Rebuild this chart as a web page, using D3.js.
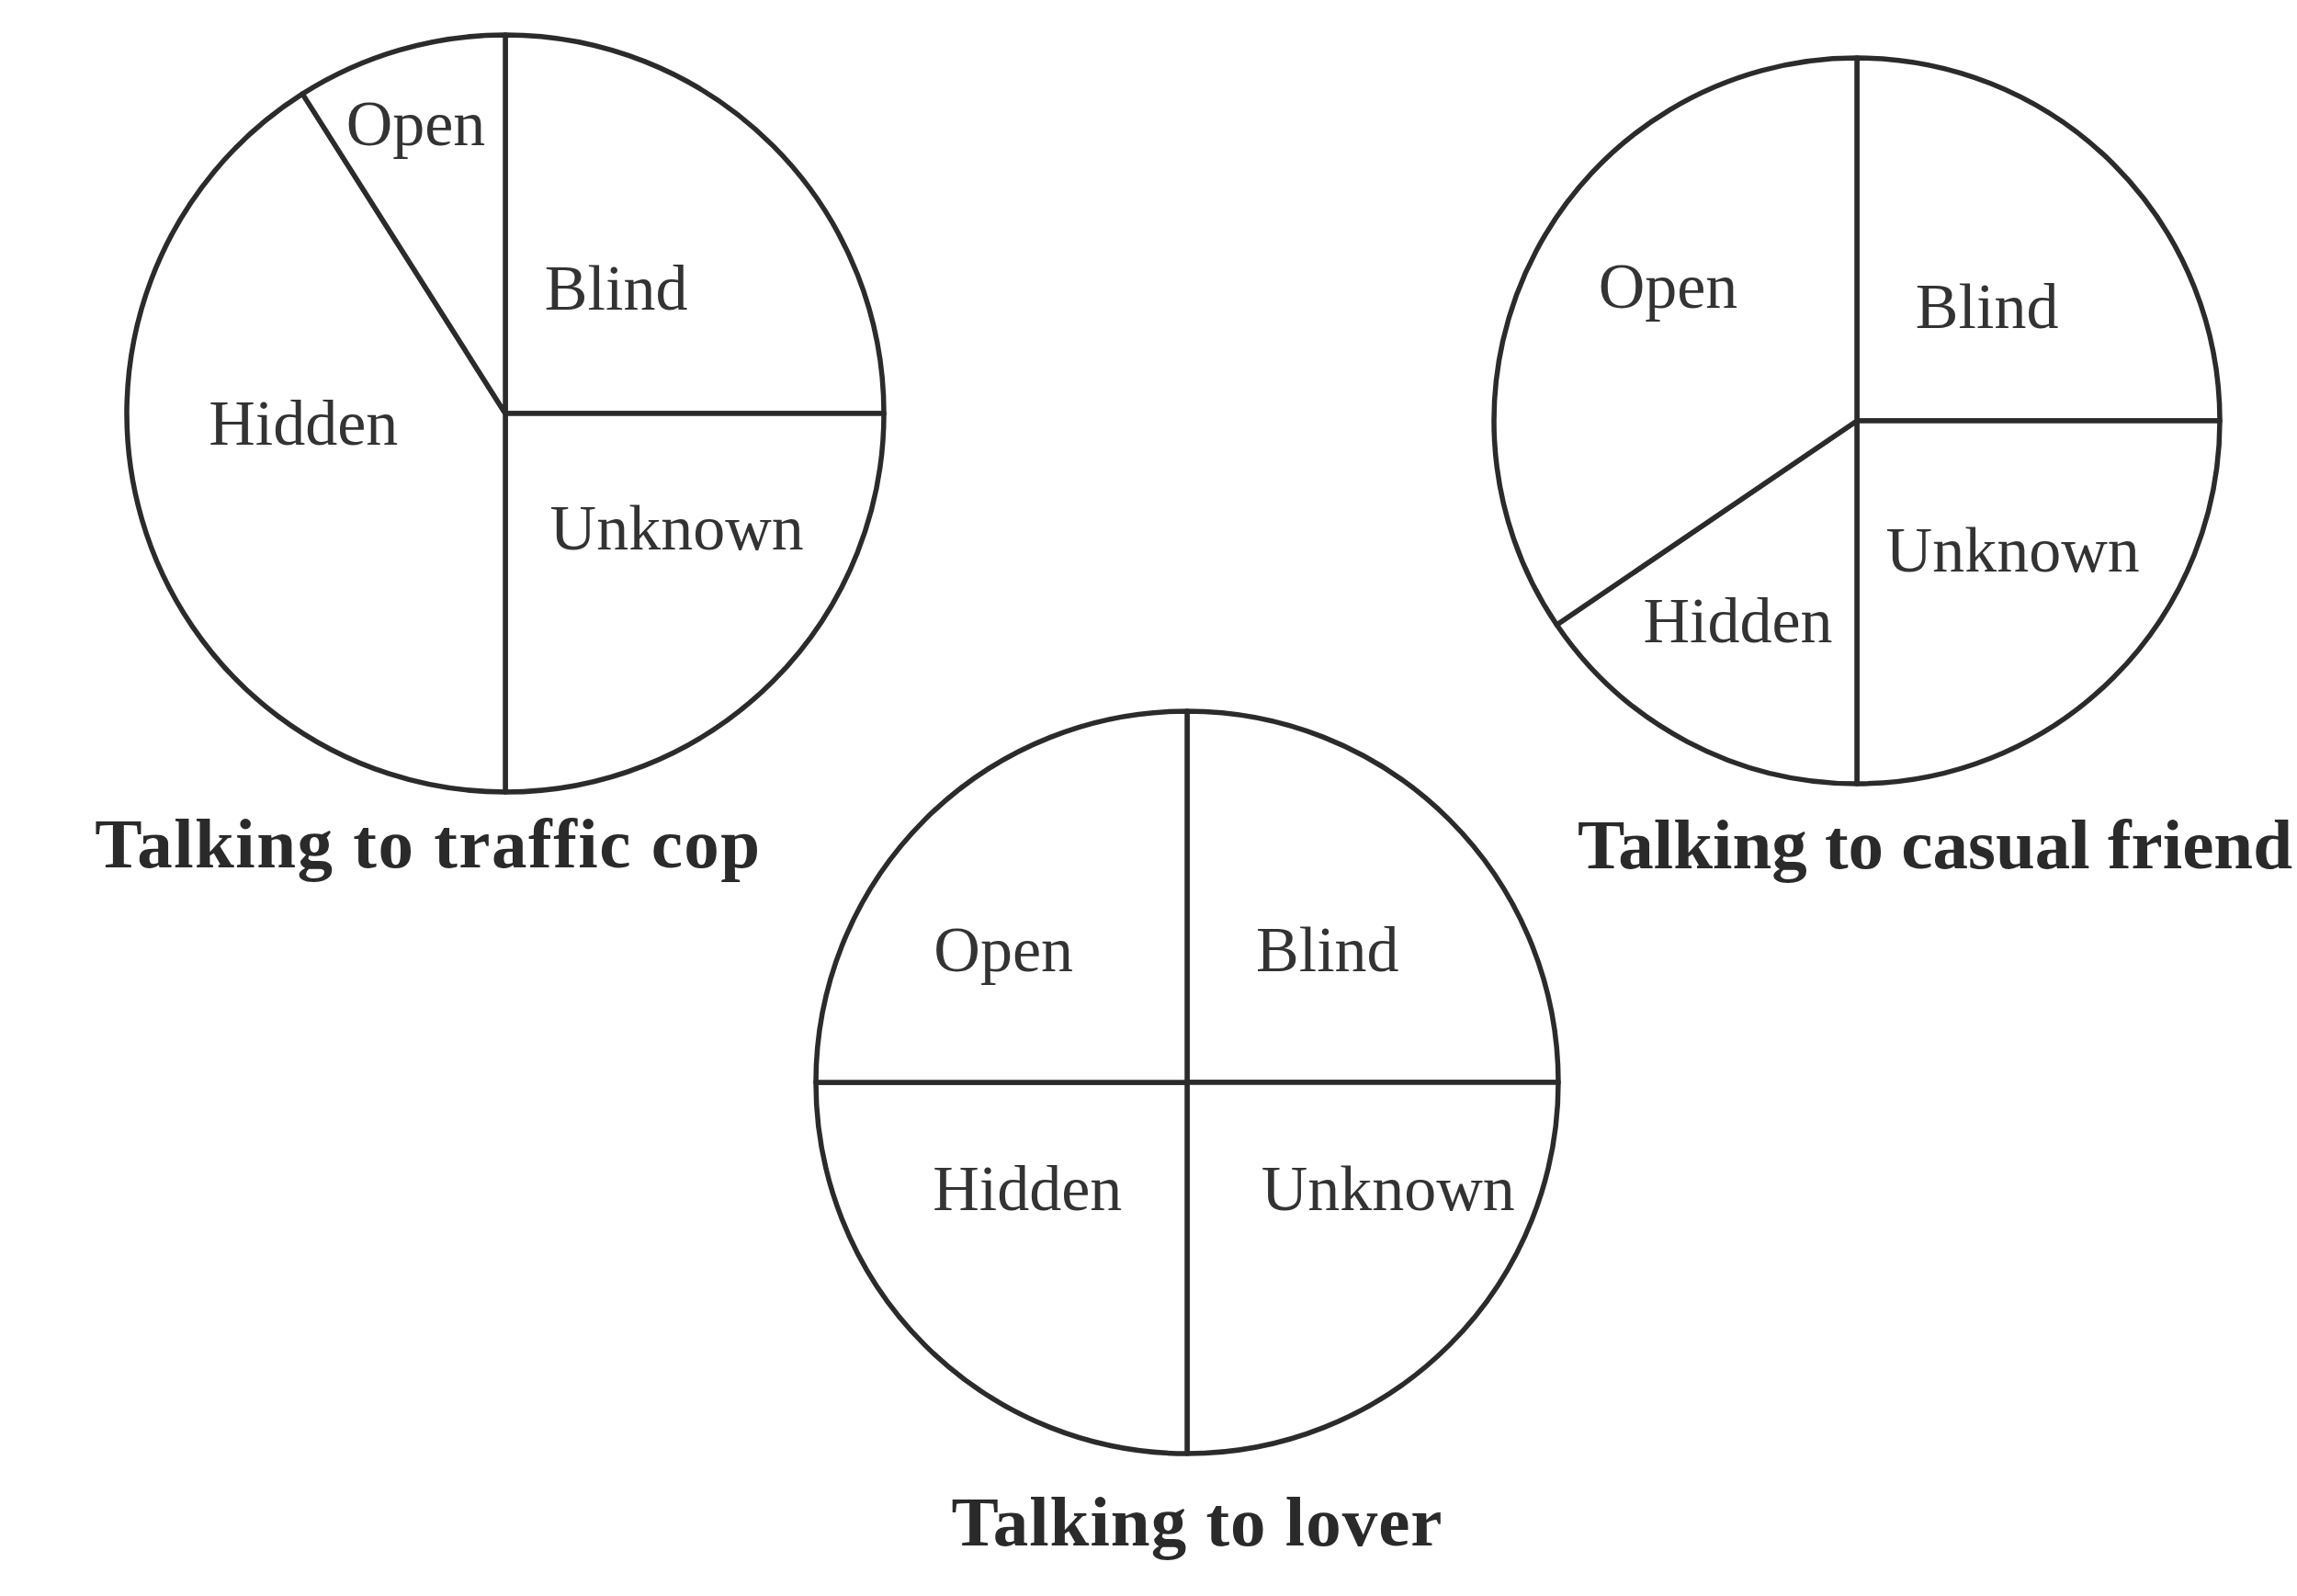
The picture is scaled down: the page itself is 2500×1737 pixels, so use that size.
<!DOCTYPE html>
<html>
<head>
<meta charset="utf-8">
<script src="https://cdn.jsdelivr.net/npm/d3@7.9.0/dist/d3.min.js"></script>
<style>
  html, body { margin: 0; padding: 0; background: #fff; }
  svg { display: block; }
  .slice { fill: #fff; stroke: #2b2b2b; stroke-width: 5.5; stroke-linejoin: round; }
  .label { font-family: 'Liberation Serif', 'Times New Roman', serif; font-size: 70px; fill: #333; }
  .title { font-family: 'Liberation Serif', 'Times New Roman', serif; font-size: 77px; font-weight: bold; fill: #2a2a2a; }
</style>
</head>
<body>
<svg id="chart" width="2500" height="1737"></svg>
<script>
// ---------- DATA ---------- //
const regions = ['Blind', 'Unknown', 'Hidden', 'Open'];
const copValues = [25, 25, 41, 9];
const friendValues = [25, 25, 15.5, 34.5];
const loverValues = [25, 25, 25, 25];
const titles = ['Talking to traffic cop', 'Talking to casual friend', 'Talking to lover'];

// ---------- LAYOUT ---------- //
// centre, radius, title baseline and small label nudges (from the arc centroid)
const pies = [
  { values: copValues, title: titles[0], cx: 550, cy: 450, r: 412, titleX: 466, titleY: 944, spacing: 1.5,
    nudge: [[-25, 33], [41, 2], [-22, -23], [-40, -94]] },
  { values: friendValues, title: titles[1], cx: 2021, cy: 458, r: 395, titleX: 2106, titleY: 945, spacing: 0,
    nudge: [[2, 39], [30, 24], [-37, 66], [-31, -31]] },
  { values: loverValues, title: titles[2], cx: 1292, cy: 1178, r: 404, titleX: 1303, titleY: 1682, spacing: 1,
    nudge: [[10, 22], [76, -4], [-31, -4], [-57, 22]] }
];

const svg = d3.select('#chart');
const sliceGenerator = d3.pie().sort(null).value((d) => d.value);

pies.forEach((p) => {
  const data = regions.map((name, i) => ({ label: name, value: p.values[i] }));
  const arcGenerator = d3.arc().innerRadius(0).outerRadius(p.r);
  const arcData = sliceGenerator(data);

  const g = svg.append('g').attr('transform', `translate(${p.cx},${p.cy})`);

  g.selectAll('path')
    .data(arcData)
    .join('path')
    .attr('class', 'slice')
    .attr('d', arcGenerator);

  g.selectAll('text')
    .data(arcData)
    .join('text')
    .attr('class', 'label')
    .attr('text-anchor', 'middle')
    .attr('x', (d, i) => arcGenerator.centroid(d)[0] + p.nudge[i][0])
    .attr('y', (d, i) => arcGenerator.centroid(d)[1] + p.nudge[i][1])
    .text((d) => d.data.label);

  svg.append('text')
    .attr('class', 'title')
    .attr('text-anchor', 'middle')
    .attr('letter-spacing', p.spacing)
    .attr('x', p.titleX)
    .attr('y', p.titleY)
    .text(p.title);
});
</script>
</body>
</html>
